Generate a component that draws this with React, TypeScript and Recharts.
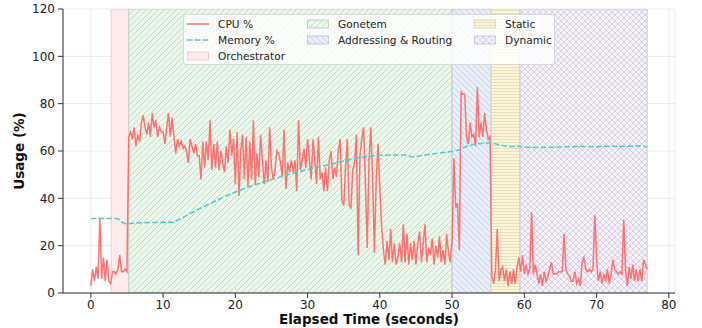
import React from "react";
import {
  LineChart,
  Line,
  XAxis,
  YAxis,
  CartesianGrid,
  ReferenceArea,
} from "recharts";

const FONT = "'DejaVu Sans', sans-serif";

// CPU % sampled every 0.25 s (one row = one second)
const cpuStep = 0.25;
const cpuPart1 = [
  3, 10, 5, 11,
  6, 32, 6, 15,
  5, 14, 5, 4,
  9, 9, 8, 10,
  16, 9, 9, 10,
  9, 66, 68, 65,
  70, 62, 67, 64,
  72, 75, 70, 67,
  72, 66, 76, 70,
  73, 66, 70, 68,
  68, 63, 70, 76,
  66, 74, 66, 59,
  65, 62, 64, 61,
  62, 60, 55, 65,
  62, 59, 63, 58,
  58, 48, 64, 53,
  64, 56, 73, 52,
  63, 53, 64, 52,
  60, 55, 51, 62,
  55, 69, 58, 65,
];
const cpuPart2 = [
  46, 68, 41, 60,
  67, 48, 66, 45,
  64, 48, 73, 46,
  59, 49, 67, 56,
  46, 56, 47, 70,
  53, 48, 52, 60,
  59, 55, 49, 69,
  44, 55, 51, 56,
  51, 56, 43, 73,
  52, 56, 61, 53,
  65, 57, 48, 65,
  56, 46, 66, 48,
  51, 43, 53, 43,
  56, 60, 48, 53,
  49, 60, 65, 39,
  37, 53, 65, 37,
  36, 52, 55, 67,
  16, 58, 65, 70,
  47, 19, 56, 70,
  49, 17, 48, 63,
];
const cpuPart3 = [
  44, 28, 18, 12,
  22, 14, 27, 13,
  21, 12, 15, 21,
  13, 29, 13, 25,
  12, 21, 14, 22,
  12, 21, 26, 13,
  21, 29, 13, 19,
  16, 23, 12, 20,
  15, 24, 13, 18,
  12, 25, 17, 13,
  22, 57, 36, 38,
  18, 85, 84, 84,
  66, 63, 72, 66,
  67, 62, 87, 66,
  72, 66, 76, 69,
  65, 66, 7, 4,
  10, 27, 5, 10,
  11, 5, 10, 3,
  9, 4, 10, 4,
  11, 15, 9, 16,
];
const cpuPart4 = [
  8, 12, 8, 10,
  34, 8, 12, 8,
  4, 8, 3, 9,
  5, 7, 10, 13,
  8, 8, 8, 9,
  9, 9, 25, 10,
  8, 7, 5, 5,
  9, 4, 6, 3,
  13, 15, 10, 9,
  10, 9, 10, 33,
  14, 5, 9, 4,
  8, 5, 10, 4,
  8, 14, 10, 9,
  8, 9, 8, 31,
  10, 3, 11, 6,
  12, 5, 10, 5,
  10, 5, 14, 12,
  10,
];
const cpuValues = [...cpuPart1, ...cpuPart2, ...cpuPart3, ...cpuPart4];

// Memory %
const memTimes = [
  0, 1, 2, 3, 3.75, 4.25, 4.75, 5.5, 7, 9, 11.5, 12.5, 14, 16, 18, 20, 22, 24,
  26, 28, 30, 32, 34, 36, 38, 40, 42, 43.5, 44.5, 46, 48, 50, 51, 52, 53, 54,
  55, 56, 57, 58, 59, 60, 62, 64, 66, 68, 70, 72, 74, 76, 77,
];
const memValues = [
  31.5, 31.5, 31.5, 31.5, 31.4, 30, 29.3, 29.4, 29.7, 29.8, 29.9, 31.5, 34, 37,
  40, 42.7, 45, 47, 48.8, 50.6, 52.2, 53.6, 55, 56.5, 57.6, 58.2, 58.3, 58.3,
  57.5, 58.2, 59, 59.8, 60.5, 62, 62.8, 63.2, 63.4, 63.1, 62.3, 61.8, 62.1,
  61.6, 61.5, 61.6, 61.8, 61.9, 61.8, 62, 62, 62.2, 61.8,
];

// phases
const phaseNames = ["Orchestrator", "Gonetem", "Addressing & Routing", "Static", "Dynamic"];
const phaseStarts = [2.8, 5.25, 50, 55.4, 59.4];
const phaseEnds = [5.25, 50, 55.4, 59.4, 77];

const xTicks = [0, 10, 20, 30, 40, 50, 60, 70, 80];
const yTicks = [0, 20, 40, 60, 80, 100, 120];

const cpuData = cpuValues.map((v, i) => ({ t: i * cpuStep, cpu: v }));
const memData = memTimes.map((t, i) => ({ t, mem: memValues[i] }));

const phasePatterns = ["pat-orch", "pat-gonetem", "pat-addr", "pat-static", "pat-dynamic"];
const phaseEdges = ["#ecc4c4", "#b9c9b9", "#b9c1d2", "#d6cfa8", "#c6bed2"];

const CPU_COLOR = "#ff6b6b";
const MEM_COLOR = "#4ecdc4";
const AXIS = "#333";

const renderXTitle = (props: any) => {
  const vb = props.viewBox;
  return (
    <text
      x={vb.x + vb.width / 2}
      y={vb.y + 31}
      textAnchor="middle"
      fontFamily={FONT}
      fontWeight="bold"
      fontSize={13.5}
      fill="#111"
    >
      Elapsed Time (seconds)
    </text>
  );
};

const renderYTitle = (props: any) => {
  const vb = props.viewBox;
  const cx = vb.x + 24;
  const cy = vb.y + vb.height / 2;
  return (
    <text
      x={cx}
      y={cy}
      transform={`rotate(-90 ${cx} ${cy})`}
      textAnchor="middle"
      fontFamily={FONT}
      fontWeight="bold"
      fontSize={13.5}
      fill="#111"
    >
      Usage (%)
    </text>
  );
};

function Swatch({ kind, index }: { kind: string; index: number }) {
  if (kind === "cpu") {
    return (
      <svg width={22} height={12}>
        <line x1={0} y1={6} x2={22} y2={6} stroke={CPU_COLOR} strokeWidth={1.5} />
      </svg>
    );
  }
  if (kind === "mem") {
    return (
      <svg width={22} height={12}>
        <line x1={0} y1={6} x2={22} y2={6} stroke={MEM_COLOR} strokeWidth={1.5} strokeDasharray="5.5 2.4" />
      </svg>
    );
  }
  return (
    <svg width={22} height={12}>
      <rect
        x={0.5}
        y={2}
        width={21}
        height={8}
        fill={`url(#${phasePatterns[index]})`}
        stroke={phaseEdges[index]}
        strokeWidth={0.8}
      />
    </svg>
  );
}

function LegendBox() {
  const items = [
    { label: "CPU %", kind: "cpu", index: -1, col: 0, row: 0 },
    { label: "Memory %", kind: "mem", index: -1, col: 0, row: 1 },
    { label: phaseNames[0], kind: "patch", index: 0, col: 0, row: 2 },
    { label: phaseNames[1], kind: "patch", index: 1, col: 1, row: 0 },
    { label: phaseNames[2], kind: "patch", index: 2, col: 1, row: 1 },
    { label: phaseNames[3], kind: "patch", index: 3, col: 2, row: 0 },
    { label: phaseNames[4], kind: "patch", index: 4, col: 2, row: 1 },
  ];
  const colX = [3, 123, 290];
  return (
    <div
      style={{
        position: "absolute",
        left: 183,
        top: 14,
        width: 372,
        height: 51,
        boxSizing: "border-box",
        background: "rgba(255,255,255,0.82)",
        border: "1px solid #d6d6d6",
        borderRadius: 3,
        fontFamily: FONT,
        fontSize: 10.6,
        color: "#222",
      }}
    >
      {items.map((it) => (
        <div
          key={it.label}
          style={{
            position: "absolute",
            left: colX[it.col],
            top: 2 + it.row * 16,
            height: 14,
            display: "flex",
            alignItems: "center",
            whiteSpace: "nowrap",
          }}
        >
          <Swatch kind={it.kind} index={it.index} />
          <span style={{ marginLeft: 9 }}>{it.label}</span>
        </div>
      ))}
    </div>
  );
}

export default function App() {
  return (
    <div
      style={{
        position: "absolute",
        left: 0,
        top: 0,
        width: 702,
        height: 328,
        background: "#fff",
        fontFamily: FONT,
      }}
    >
      <LineChart
        width={702}
        height={328}
        data={cpuData}
        margin={{ top: 9, right: 27, bottom: 0, left: 0 }}
      >
        <defs>
          <pattern id="pat-orch" patternUnits="userSpaceOnUse" width={6} height={6}>
            <rect width={6} height={6} fill="#fdeaea" />
          </pattern>
          <pattern id="pat-gonetem" patternUnits="userSpaceOnUse" width={6} height={6}>
            <rect width={6} height={6} fill="#eaf8ea" />
            <path d="M-1,1 L1,-1 M0,6 L6,0 M5,7 L7,5" stroke="#b4c0b4" strokeWidth={0.6} />
          </pattern>
          <pattern id="pat-addr" patternUnits="userSpaceOnUse" width={6} height={6}>
            <rect width={6} height={6} fill="#e9effa" />
            <path d="M-1,5 L1,7 M0,0 L6,6 M5,-1 L7,1" stroke="#b2b7c4" strokeWidth={0.6} />
          </pattern>
          <pattern id="pat-static" patternUnits="userSpaceOnUse" width={6} height={3}>
            <rect width={6} height={3} fill="#fbf6d8" />
            <path d="M0,1.5 L6,1.5" stroke="#d9d1ab" strokeWidth={0.6} />
          </pattern>
          <pattern id="pat-dynamic" patternUnits="userSpaceOnUse" width={6} height={6}>
            <rect width={6} height={6} fill="#f5f0fb" />
            <path
              d="M-1,1 L1,-1 M0,6 L6,0 M5,7 L7,5 M-1,5 L1,7 M0,0 L6,6 M5,-1 L7,1"
              stroke="#c3bccd"
              strokeWidth={0.6}
            />
          </pattern>
        </defs>
        {phaseNames.map((name, i) => (
          <ReferenceArea
            key={name}
            x1={phaseStarts[i]}
            x2={phaseEnds[i]}
            y1={0}
            y2={120}
            fill={`url(#${phasePatterns[i]})`}
            fillOpacity={1}
            stroke={phaseEdges[i]}
            strokeWidth={0.8}
            ifOverflow="hidden"
          />
        ))}
        <CartesianGrid stroke="#cfcfcf" strokeOpacity={0.55} strokeWidth={0.8} />
        <XAxis
          type="number"
          dataKey="t"
          domain={[-3.85, 80.85]}
          ticks={xTicks}
          allowDataOverflow
          height={35}
          tickSize={5}
          tickMargin={2}
          tick={{ fill: "#222", fontSize: 12, fontFamily: FONT }}
          axisLine={{ stroke: AXIS }}
          tickLine={{ stroke: AXIS }}
          label={renderXTitle}
        />
        <XAxis
          xAxisId="top"
          orientation="top"
          type="number"
          domain={[-3.85, 80.85]}
          height={0}
          tick={false}
          tickLine={false}
          axisLine={{ stroke: AXIS }}
        />
        <YAxis
          type="number"
          domain={[0, 120]}
          ticks={yTicks}
          allowDataOverflow
          width={63}
          tickSize={5}
          tickMargin={3}
          tick={{ fill: "#222", fontSize: 12, fontFamily: FONT }}
          axisLine={{ stroke: AXIS }}
          tickLine={{ stroke: AXIS }}
          label={renderYTitle}
        />
        <YAxis
          yAxisId="right"
          orientation="right"
          domain={[0, 120]}
          width={0}
          tick={false}
          tickLine={false}
          axisLine={{ stroke: AXIS }}
        />
        <Line
          type="linear"
          dataKey="cpu"
          name="CPU %"
          stroke={CPU_COLOR}
          strokeWidth={1.5}
          strokeOpacity={0.95}
          dot={false}
          isAnimationActive={false}
        />
        <Line
          type="linear"
          data={memData}
          dataKey="mem"
          name="Memory %"
          stroke={MEM_COLOR}
          strokeWidth={1.5}
          strokeDasharray="5.5 2.4"
          dot={false}
          isAnimationActive={false}
        />
      </LineChart>
      <LegendBox />
    </div>
  );
}
